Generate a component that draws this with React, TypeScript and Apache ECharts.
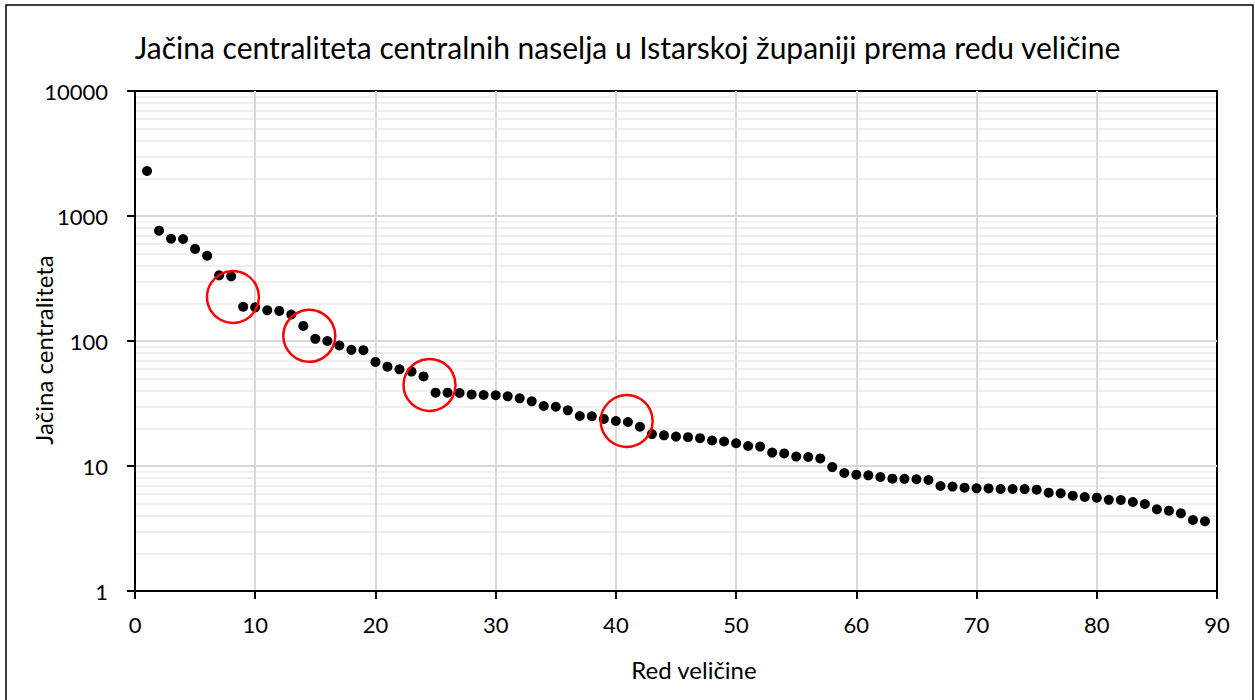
import React, { useEffect, useRef } from "react";
import * as echarts from "echarts";

const titleText = "Jačina centraliteta centralnih naselja u Istarskoj županiji prema redu veličine";
const xAxisName = "Red veličine";
const yAxisName = "Jačina centraliteta";

// Jačina centraliteta by rank (rank = position + 1)
const centralityValues: number[] = [
  2290, 763, 658, 655, 545, 481, 335, 329, 188, 186,
  176, 174, 163, 132, 104, 100, 92, 85, 84.5, 68,
  62.3, 59.3, 56.9, 52.1, 38.6, 38.6, 38.4, 37.4, 37.0, 36.8,
  36.1, 34.8, 32.9, 30.2, 29.8, 27.9, 25.1, 25.0, 23.8, 22.9,
  22.5, 20.6, 18.0, 17.6, 17.2, 17.0, 16.7, 16.0, 15.7, 15.2,
  14.45, 14.3, 12.8, 12.6, 11.9, 11.8, 11.5, 9.8, 8.79, 8.53,
  8.42, 8.17, 7.92, 7.9, 7.84, 7.73, 6.92, 6.84, 6.71, 6.63,
  6.62, 6.55, 6.55, 6.54, 6.47, 6.12, 6.04, 5.79, 5.65, 5.58,
  5.36, 5.35, 5.15, 4.97, 4.5, 4.39, 4.18, 3.7, 3.61,
];

// highlighted breaks (red circles)
const highlightX: number[] = [8.15, 14.5, 24.5, 40.9];
const highlightY: number[] = [225, 110, 44.5, 22.9];

// log axis minor grid: multipliers per decade
const minorMultipliers: number[] = [2, 3, 4, 5, 6, 7, 8, 9];
const decades: number[] = [1, 10, 100, 1000];

const FONT = "Lato, 'Noto Sans', sans-serif";

export default function App() {
  const ref = useRef<HTMLDivElement>(null);

  useEffect(() => {
    if (!ref.current) return;
    const chart = echarts.init(ref.current, null, { renderer: "svg" });

    const points = centralityValues.map((v, i) => [i + 1, v]);
    const circles = highlightX.map((x, i) => [x, highlightY[i]]);
    const minorLines: { yAxis: number }[] = [];
    decades.forEach((d) => minorMultipliers.forEach((m) => minorLines.push({ yAxis: d * m })));

    chart.setOption({
      animation: false,
      backgroundColor: "#fff",
      textStyle: { fontFamily: FONT },
      title: {
        text: titleText,
        left: "center",
        top: 27,
        textStyle: { fontFamily: FONT, fontSize: 30, fontWeight: "normal", color: "#000" },
      },
      graphic: [
        {
          type: "rect",
          shape: { x: 6, y: 5, width: 1247, height: 720 },
          style: { fill: "none", stroke: "#000", lineWidth: 1.5 },
          silent: true,
          z: 100,
        },
      ],
      grid: {
        left: 135,
        right: 38,
        top: 91,
        bottom: 109,
        show: true,
        borderColor: "#000",
        borderWidth: 2,
      },
      xAxis: {
        type: "value",
        min: 0,
        max: 90,
        interval: 10,
        name: xAxisName,
        nameLocation: "middle",
        nameGap: 66,
        nameMoveOverlap: false,
        nameTextStyle: { fontFamily: FONT, fontSize: 24, color: "#000", padding: [0, 0, 0, 36] },
        axisLine: { show: true, onZero: false, lineStyle: { color: "#000", width: 2 } },
        axisTick: { show: true, length: 8, lineStyle: { color: "#000", width: 2 } },
        axisLabel: { fontFamily: FONT, fontSize: 22, color: "#000", margin: 22 },
        splitLine: { show: true, showMaxLine: false, lineStyle: { color: "#d9d9d9", width: 2 } },
      },
      yAxis: {
        type: "log",
        logBase: 10,
        min: 1,
        max: 10000,
        name: yAxisName,
        nameLocation: "middle",
        nameGap: 80,
        nameMoveOverlap: false,
        nameTextStyle: { fontFamily: FONT, fontSize: 24, color: "#000", padding: [0, 18, 0, 0] },
        axisLine: { show: true, lineStyle: { color: "#000", width: 2 } },
        axisTick: { show: true, length: 8, lineStyle: { color: "#000", width: 2 } },
        axisLabel: {
          fontFamily: FONT,
          fontSize: 22,
          color: "#000",
          margin: 27,
          formatter: (v: number) => String(Math.round(v)),
        },
        splitLine: { show: true, showMaxLine: false, lineStyle: { color: "#d9d9d9", width: 2 } },
        minorTick: { show: false },
        minorSplitLine: { show: false },
      },
      series: [
        {
          type: "line",
          name: "minor",
          data: [],
          silent: true,
          z: -1,
          markLine: {
            silent: true,
            symbol: "none",
            animation: false,
            z: -1,
            label: { show: false },
            emphasis: { disabled: true },
            lineStyle: { color: "#efefef", width: 2, type: "solid" },
            data: minorLines,
          },
        },
        {
          type: "scatter",
          name: yAxisName,
          data: points,
          symbol: "circle",
          symbolSize: 10,
          itemStyle: { color: "#000", opacity: 1 },
          z: 5,
        },
        {
          type: "scatter",
          name: "highlight",
          data: circles,
          symbol: "circle",
          symbolSize: 52,
          itemStyle: { color: "rgba(0,0,0,0)", borderColor: "#ff0000", borderWidth: 2.5, opacity: 1 },
          z: 6,
        },
      ],
    });

    return () => chart.dispose();
  }, []);

  return (
    <div
      ref={ref}
      style={{ position: "absolute", left: 0, top: 0, width: 1255, height: 700 }}
    />
  );
}
